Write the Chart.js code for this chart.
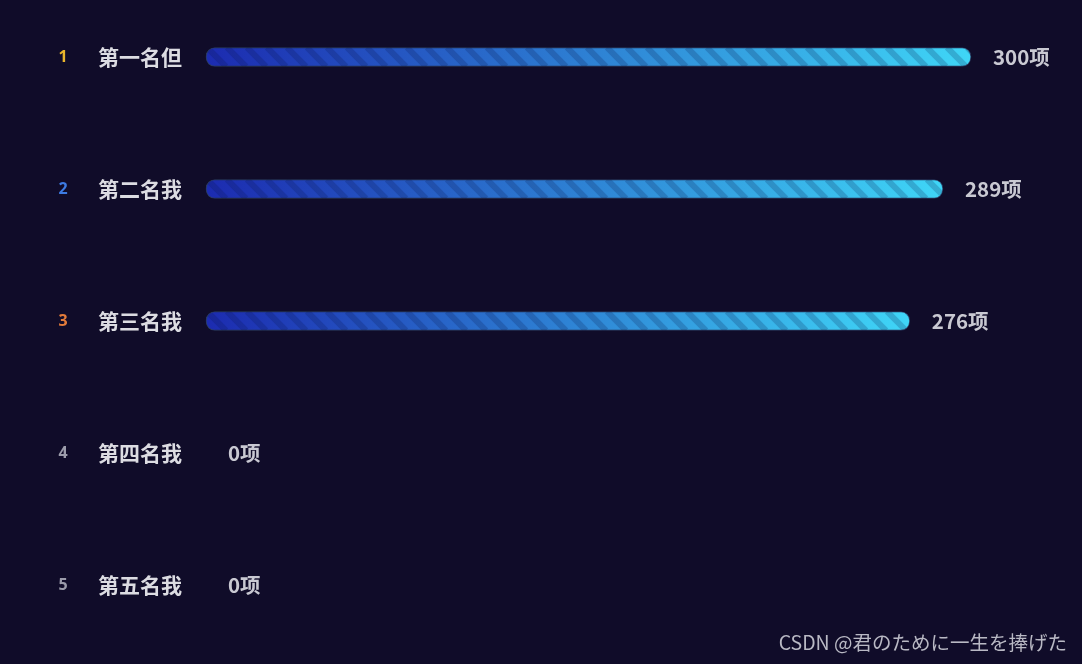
<!DOCTYPE html>
<html>
<head>
<meta charset="utf-8">
<script src="https://cdn.jsdelivr.net/npm/chart.js@4.4.1/dist/chart.umd.min.js"></script>
<style>
  html, body { margin: 0; padding: 0; background: #100c29; }
  #wrap { position: relative; width: 1082px; height: 664px; }
  #wm { position: absolute; right: 15px; bottom: 8px; color: #b9b9c4; font: 19.5px "Noto Sans CJK JP", "Noto Sans", sans-serif; }
</style>
</head>
<body>
<div id="wrap">
  <canvas id="c" width="1082" height="664"></canvas>
  <div id="wm">CSDN @君のために一生を捧げた</div>
</div>
<script>
const categories = ['第一名但', '第二名我', '第三名我', '第四名我', '第五名我'];
const ranks = ['1', '2', '3', '4', '5'];
const values = [300, 289, 276, 0, 0];
const unit = '项';
const xMax = 300;

const rankColors = ['#e9b52c', '#3d7be3', '#e27b3b', '#9c9cab', '#9c9cab'];
const startColor = '#1c2bb0';
const endColor = '#3fd6f7';

function barGradient(ctx) {
  const chart = ctx.chart;
  const xs = chart.scales.x;
  if (!xs || !chart.chartArea) return endColor;
  const v = ctx.raw;
  const x0 = xs.getPixelForValue(0);
  const x1 = xs.getPixelForValue(v);
  if (x1 - x0 < 1) return startColor;
  const g = chart.ctx.createLinearGradient(x0, 0, x1, 0);
  g.addColorStop(0, startColor);
  g.addColorStop(1, endColor);
  return g;
}

function roundRectPath(c, x, y, w, h, r) {
  r = Math.min(r, h / 2, w / 2);
  c.beginPath();
  c.moveTo(x + r, y);
  c.lineTo(x + w - r, y);
  c.arc(x + w - r, y + r, r, -Math.PI / 2, Math.PI / 2);
  c.lineTo(x + r, y + h);
  c.arc(x + r, y + r, r, Math.PI / 2, Math.PI * 1.5);
  c.closePath();
}

const decor = {
  id: 'decor',
  afterDatasetsDraw(chart) {
    const c = chart.ctx;
    const meta = chart.getDatasetMeta(0);
    meta.data.forEach((bar, i) => {
      const left = Math.min(bar.base, bar.x);
      const w = Math.abs(bar.x - bar.base);
      const h = bar.height;
      const top = bar.y - h / 2;
      // stripes
      if (w > 2) {
        c.save();
        roundRectPath(c, left, top, w, h, h / 2);
        c.clip();
        c.strokeStyle = 'rgba(10,20,70,0.2)';
        c.lineWidth = 6;
        for (let sx = left - h; sx < left + w + h; sx += 20) {
          c.beginPath();
          c.moveTo(sx, top);
          c.lineTo(sx + h, top + h);
          c.stroke();
        }
        c.restore();
      }
      // rank
      c.save();
      c.textBaseline = 'middle';
      c.textAlign = 'center';
      c.fillStyle = rankColors[i];
      c.font = 'bold 16px "Noto Sans", "DejaVu Sans", sans-serif';
      c.fillText(ranks[i], 63, bar.y);
      // category label
      c.textAlign = 'left';
      c.fillStyle = '#dcdce2';
      c.font = 'bold 21px "Noto Sans CJK SC", sans-serif';
      c.fillText(categories[i], 98, bar.y);
      // value label
      c.fillStyle = '#c9c9d2';
      c.font = 'bold 20.5px "Noto Sans CJK SC", sans-serif';
      const vx = (values[i] > 0 ? bar.x : bar.base) + 22;
      c.fillText(values[i] + unit, vx, bar.y);
      c.restore();
    });
  }
};

new Chart(document.getElementById('c'), {
  type: 'bar',
  data: {
    labels: categories,
    datasets: [{
      data: values,
      backgroundColor: barGradient,
      borderColor: 'rgba(120,200,255,0.25)',
      borderWidth: 1,
      borderRadius: 9,
      borderSkipped: false,
      barThickness: 19,
      clip: false
    }]
  },
  options: {
    indexAxis: 'y',
    responsive: false,
    animation: false,
    layout: { padding: { left: 206, right: 111, top: 57, bottom: 79 } },
    scales: {
      x: { display: false, min: 0, max: xMax },
      y: { display: false, offset: false }
    },
    plugins: { legend: { display: false }, tooltip: { enabled: false } }
  },
  plugins: [decor]
});
</script>
</body>
</html>
